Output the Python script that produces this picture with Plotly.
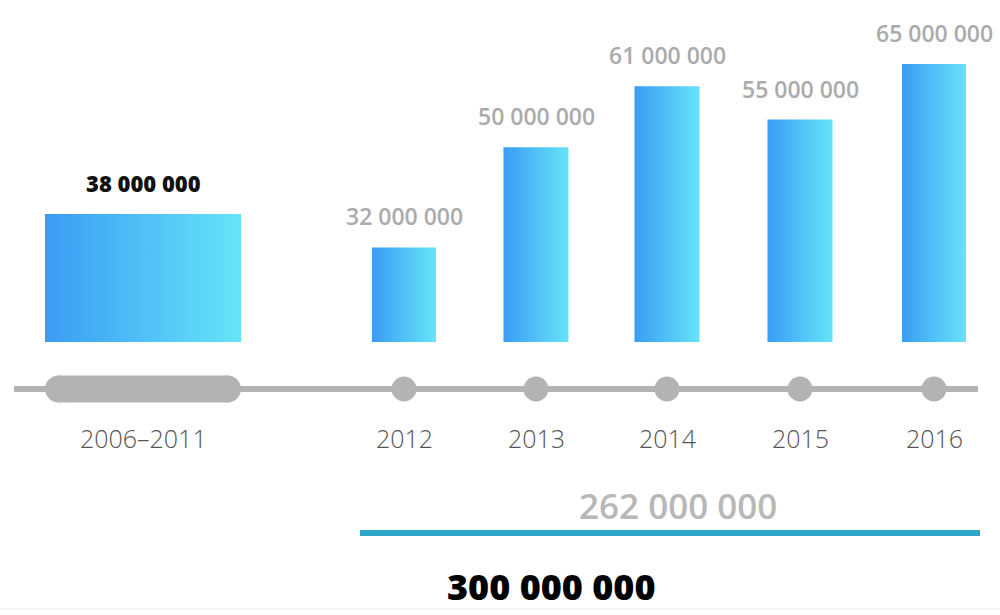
import plotly.graph_objects as go

# ---- data ----
periods = ["2006–2011", "2012", "2013", "2014", "2015", "2016"]
values = [38_000_000, 32_000_000, 50_000_000, 61_000_000, 55_000_000, 65_000_000]
total_2012_2016 = 262_000_000
grand_total = 300_000_000

# ---- layout (pixel positions along the x axis, bar widths) ----
x_pos = [143, 404, 536, 667, 800, 934]
widths = [196, 64, 65, 65, 65, 64]
BASE = 15_000_000
Y_RANGE = [-34_100_000, 76_500_000]

GREY = "#b3b3b3"
FONT = "Open Sans"


def fmt(v):
    return f"{v:,}".replace(",", " ")


fig = go.Figure()

# bars as gradient-filled polygons
for c, w, v in zip(x_pos, widths, values):
    fig.add_trace(go.Scatter(
        x=[c - w / 2, c + w / 2, c + w / 2, c - w / 2, c - w / 2],
        y=[BASE, BASE, v, v, BASE],
        mode="lines", fill="toself", line=dict(width=0),
        fillgradient=dict(type="horizontal",
                          colorscale=[[0, "#3a9cf4"], [1, "#66e4f8"]]),
        hoverinfo="skip", showlegend=False,
    ))

# value labels
for i, (c, v) in enumerate(zip(x_pos, values)):
    first = i == 0
    fig.add_annotation(
        x=c, y=v, xref="x", yref="y", text=fmt(v), showarrow=False,
        yanchor="middle", yshift=31,
        font=dict(family=FONT, size=22 if first else 23,
                  color="#111111" if first else "#ababab",
                  weight=800 if first else 600),
    )

# timeline (drawn on a pixel-like secondary axis)
shapes = []
shapes.append(dict(type="line", xref="x", yref="y2", x0=14, x1=978, y0=389, y1=389,
                   line=dict(color=GREY, width=6), layer="below"))
# capsule for the first period
c0, w0 = x_pos[0], widths[0]
r = 13.5
shapes.append(dict(type="rect", xref="x", yref="y2", x0=c0 - w0 / 2 + r, x1=c0 + w0 / 2 - r,
                   y0=389 - r, y1=389 + r, fillcolor=GREY, line=dict(width=0)))
for cx in (c0 - w0 / 2 + r, c0 + w0 / 2 - r):
    shapes.append(dict(type="circle", xref="x", yref="y2", x0=cx - r, x1=cx + r,
                       y0=389 - r, y1=389 + r, fillcolor=GREY, line=dict(width=0)))
# total line
shapes.append(dict(type="line", xref="x", yref="y2", x0=360, x1=980, y0=533, y1=533,
                   line=dict(color="#2ea6cc", width=6)))
shapes.append(dict(type="line", xref="x", yref="y2", x0=0, x1=1000, y0=609, y1=609,
                   line=dict(color="#e8e8e8", width=1)))

fig.add_trace(go.Scatter(
    x=x_pos[1:], y=[389] * (len(x_pos) - 1), yaxis="y2", mode="markers",
    marker=dict(size=25, color=GREY), hoverinfo="skip", showlegend=False,
))

for c, p in zip(x_pos, periods):
    fig.add_annotation(x=c, y=438, xref="x", yref="y2", text=p, showarrow=False,
                       font=dict(family=FONT, size=25, color="#555555", weight=300))

fig.add_annotation(x=678, y=505, xref="x", yref="y2", text=fmt(total_2012_2016),
                   showarrow=False, font=dict(family=FONT, size=35, color="#b8b8b8", weight=600))
fig.add_annotation(x=551, y=586, xref="x", yref="y2", text=fmt(grand_total),
                   showarrow=False, font=dict(family=FONT, size=36, color="#000000", weight=800))

fig.update_layout(
    width=1000, height=615, autosize=False,
    margin=dict(l=0, r=0, t=0, b=0),
    paper_bgcolor="white", plot_bgcolor="white",
    xaxis=dict(range=[0, 1000], visible=False, fixedrange=True),
    yaxis=dict(range=Y_RANGE, visible=False, fixedrange=True),
    yaxis2=dict(range=[615, 0], visible=False, overlaying="y", fixedrange=True),
    shapes=shapes,
    showlegend=False,
)

fig.write_html("out.html", config={"displayModeBar": False},
               post_script="document.body.style.margin='0';")
